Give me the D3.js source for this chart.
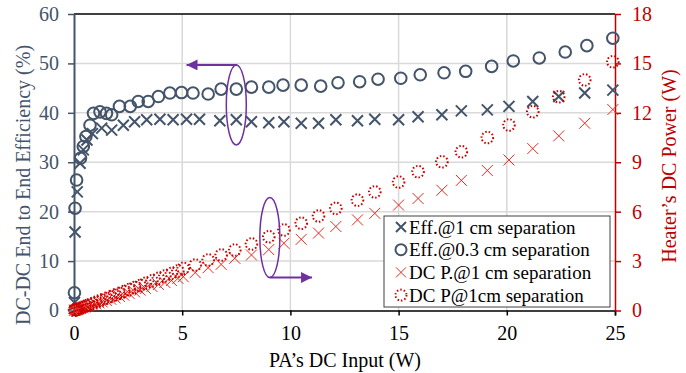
<!DOCTYPE html>
<html>
<head>
<meta charset="utf-8">
<script src="https://d3js.org/d3.v7.min.js"></script>
<style>
body { margin: 0; background: #fff; }
svg { display: block; font-family: "Liberation Serif", "Times New Roman", serif; }
</style>
</head>
<body>
<svg></svg>
<script>
var WIDTH = 686;
var HEIGHT = 373;

// efficiency @ 1 cm (left axis, %)
var eff1X = [0.02, 0.05, 0.15, 0.28, 0.43, 0.6, 0.85, 1.28, 1.74, 2.28, 2.8, 3.36, 3.97, 4.58, 5.2, 5.8, 6.74, 7.5, 8.2, 9.0, 9.7, 10.5, 11.3, 12.1, 13.1, 13.9, 15.0, 15.9, 17.0, 17.9, 19.1, 20.1, 21.2, 22.4, 23.6, 24.9];
var eff1Y = [1.6, 15.9, 24, 29.8, 32.5, 34.5, 35.8, 36.9, 36.5, 37.5, 38.2, 38.6, 38.7, 38.6, 38.7, 38.7, 38.4, 38.6, 38.2, 38.0, 38.2, 37.9, 37.9, 38.6, 38.4, 38.7, 38.6, 39.2, 39.6, 40.4, 40.6, 41.3, 42.3, 43.3, 44.0, 44.6];

// efficiency @ 0.3 cm (left axis, %)
var eff03X = [0.02, 0.05, 0.12, 0.3, 0.43, 0.55, 0.74, 0.9, 1.2, 1.5, 1.74, 2.1, 2.6, 2.97, 3.43, 3.9, 4.43, 4.97, 5.5, 6.2, 6.8, 7.5, 8.2, 9.0, 9.66, 10.5, 11.4, 12.2, 13.2, 14.05, 15.1, 16.0, 17.1, 18.1, 19.3, 20.3, 21.5, 22.7, 23.7, 24.9];
var eff03Y = [3.6, 20.7, 26.4, 30.8, 33.2, 35.2, 37.5, 39.9, 40.2, 39.9, 39.6, 41.3, 41.3, 42.3, 42.3, 43.3, 44.0, 44.1, 44.0, 43.8, 44.8, 44.8, 45.2, 45.2, 45.6, 45.6, 45.4, 46.1, 46.3, 46.8, 47.0, 47.7, 48.1, 48.4, 49.4, 50.5, 51.1, 52.3, 53.6, 55.1];

// heater DC power, X markers (right axis, W)
var dcp1X = [0.02, 0.05, 0.1, 0.15, 0.2, 0.3, 0.4, 0.5, 0.6, 0.7, 0.85, 1.0, 1.15, 1.3, 1.5, 1.7, 1.9, 2.1, 2.3, 2.55, 2.8, 3.05, 3.3, 3.6, 3.9, 4.2, 4.5, 4.8, 5.05, 5.6, 6.2, 6.8, 7.43, 8.2, 9.0, 9.7, 10.5, 11.3, 12.1, 13.1, 13.9, 15.0, 15.9, 17.0, 17.9, 19.1, 20.1, 21.2, 22.4, 23.6, 24.9];
var dcp1Y = [0.01, 0.02, 0.04, 0.06, 0.08, 0.12, 0.16, 0.2, 0.24, 0.28, 0.34, 0.4, 0.46, 0.52, 0.6, 0.68, 0.76, 0.85, 0.93, 1.03, 1.13, 1.24, 1.34, 1.46, 1.58, 1.7, 1.82, 1.95, 2.05, 2.3, 2.6, 2.8, 3.17, 3.37, 3.7, 4.08, 4.32, 4.7, 5.1, 5.5, 5.9, 6.4, 6.8, 7.3, 7.9, 8.5, 9.14, 9.83, 10.6, 11.37, 12.2];

// heater DC power, dotted circles (right axis, W)
var dcp2X = [0.02, 0.05, 0.1, 0.15, 0.2, 0.3, 0.4, 0.5, 0.6, 0.7, 0.85, 1.0, 1.15, 1.3, 1.5, 1.7, 1.9, 2.1, 2.3, 2.55, 2.8, 3.05, 3.3, 3.6, 3.9, 4.2, 4.5, 4.8, 5.05, 5.6, 6.2, 6.8, 7.43, 8.2, 9.0, 9.7, 10.5, 11.3, 12.1, 13.1, 13.9, 15.0, 15.9, 17.0, 17.9, 19.1, 20.1, 21.2, 22.4, 23.6, 24.9];
var dcp2Y = [0.01, 0.03, 0.05, 0.08, 0.1, 0.15, 0.2, 0.25, 0.3, 0.35, 0.42, 0.5, 0.57, 0.65, 0.75, 0.85, 0.95, 1.05, 1.15, 1.28, 1.4, 1.52, 1.65, 1.8, 1.95, 2.1, 2.25, 2.4, 2.56, 2.76, 3.07, 3.37, 3.67, 4.04, 4.48, 4.89, 5.3, 5.74, 6.2, 6.7, 7.2, 7.8, 8.43, 9.03, 9.64, 10.5, 11.26, 12.07, 12.98, 14.0, 15.1];

var xTicks = [0, 5, 10, 15, 20, 25];
var leftTicks = [0, 10, 20, 30, 40, 50, 60];
var rightTicks = [0, 3, 6, 9, 12, 15, 18];
var legendNames = ['Eff.@1 cm separation', 'Eff.@0.3 cm separation', 'DC P.@1 cm separation', 'DC P@1cm separation'];

var SLATE = '#44546A';
var RED_AXIS = '#C00000';
var RED_X = '#F0281E';
var RED_O = '#CC0000';
var PURPLE = '#7030A0';
var FONT = '"Liberation Serif", "Times New Roman", serif';

var svg = d3.select('svg')
  .attr('width', WIDTH)
  .attr('height', HEIGHT);

var xScale = d3.scaleLinear().domain([0, 25]).range([74, 615]);
var yLeft = d3.scaleLinear().domain([0, 60]).range([310.5, 14]);
var yRight = d3.scaleLinear().domain([0, 18]).range([310.5, 14]);

// grid
svg.append('g').selectAll('line.v').data(xTicks.slice(1, 5)).enter()
  .append('line')
  .attr('x1', function(d){ return xScale(d); })
  .attr('x2', function(d){ return xScale(d); })
  .attr('y1', yLeft(0)).attr('y2', yLeft(60))
  .attr('stroke', '#D9D9D9').attr('stroke-width', 1.5);
svg.append('g').selectAll('line.h').data(leftTicks.slice(1, 6)).enter()
  .append('line')
  .attr('x1', xScale(0)).attr('x2', xScale(25))
  .attr('y1', function(d){ return yLeft(d); })
  .attr('y2', function(d){ return yLeft(d); })
  .attr('stroke', '#D9D9D9').attr('stroke-width', 1.5);

// top border
svg.append('line')
  .attr('x1', xScale(0)).attr('x2', xScale(25))
  .attr('y1', yLeft(60)).attr('y2', yLeft(60))
  .attr('stroke', '#000').attr('stroke-width', 1.5);

// axes
var bottomAxis = d3.axisBottom(xScale).tickValues(xTicks).tickSize(5).tickPadding(10);
var gx = svg.append('g').attr('transform', 'translate(0,' + yLeft(0) + ')').call(bottomAxis);
gx.select('.domain').attr('stroke', '#000').attr('stroke-width', 1.5);
gx.selectAll('.tick line').attr('stroke', '#000').attr('stroke-width', 1.5);
gx.selectAll('text').attr('font-size', 20).attr('fill', '#000').attr('font-family', FONT);

var leftAxis = d3.axisLeft(yLeft).tickValues(leftTicks).tickSize(6).tickPadding(9).tickSizeOuter(0);
var gl = svg.append('g').attr('transform', 'translate(' + xScale(0) + ',0)').call(leftAxis);
gl.select('.domain').attr('stroke', SLATE).attr('stroke-width', 2);
gl.selectAll('.tick line').attr('stroke', SLATE).attr('stroke-width', 1.5);
gl.selectAll('text').attr('font-size', 20).attr('fill', SLATE).attr('font-family', FONT);

var rightAxis = d3.axisRight(yRight).tickValues(rightTicks).tickSize(6).tickPadding(11).tickSizeOuter(0);
var gr = svg.append('g').attr('transform', 'translate(' + xScale(25) + ',0)').call(rightAxis);
gr.select('.domain').attr('stroke', RED_AXIS).attr('stroke-width', 1.5);
gr.selectAll('.tick line').attr('stroke', RED_AXIS).attr('stroke-width', 1.5);
gr.selectAll('text').attr('font-size', 20).attr('fill', RED_AXIS).attr('font-family', FONT);

// titles
svg.append('text')
  .attr('x', 345).attr('y', 367)
  .attr('text-anchor', 'middle')
  .attr('font-size', 20)
  .attr('fill', '#000')
  .text('PA\u2019s DC Input (W)');

svg.append('text')
  .attr('transform', 'translate(30,185) rotate(-90)')
  .attr('text-anchor', 'middle')
  .attr('font-size', 20)
  .attr('fill', SLATE)
  .text('DC-DC End to End Efficiency (%)');

svg.append('text')
  .attr('transform', 'translate(676,166) rotate(-90)')
  .attr('text-anchor', 'middle')
  .attr('font-size', 20)
  .attr('fill', RED_AXIS)
  .text('Heater\u2019s DC Power (W)');

var crossPath = function(s){
  return 'M' + (-s) + ',' + (-s) + 'L' + s + ',' + s + 'M' + (-s) + ',' + s + 'L' + s + ',' + (-s);
};

var zip = function(xs, ys){
  return xs.map(function(d, i){ return {x: d, y: ys[i]}; });
};

// efficiency markers
svg.append('g').selectAll('path').data(zip(eff1X, eff1Y)).enter()
  .append('path')
  .attr('transform', function(d){ return 'translate(' + xScale(d.x) + ',' + yLeft(d.y) + ')'; })
  .attr('d', crossPath(5.5))
  .attr('stroke', SLATE).attr('stroke-width', 2).attr('fill', 'none');

svg.append('g').selectAll('circle').data(zip(eff03X, eff03Y)).enter()
  .append('circle')
  .attr('cx', function(d){ return xScale(d.x); })
  .attr('cy', function(d){ return yLeft(d.y); })
  .attr('r', 5.8)
  .attr('stroke', SLATE).attr('stroke-width', 2).attr('fill', 'none');

// heater power markers
svg.append('g').selectAll('path').data(zip(dcp1X, dcp1Y)).enter()
  .append('path')
  .attr('transform', function(d){ return 'translate(' + xScale(d.x) + ',' + yRight(d.y) + ')'; })
  .attr('d', crossPath(5.5))
  .attr('stroke', RED_X).attr('stroke-width', 1).attr('fill', 'none');

svg.append('g').selectAll('circle').data(zip(dcp2X, dcp2Y)).enter()
  .append('circle')
  .attr('cx', function(d){ return xScale(d.x); })
  .attr('cy', function(d){ return yRight(d.y); })
  .attr('r', 5.8)
  .attr('stroke', RED_O).attr('stroke-width', 2).attr('stroke-dasharray', '1.5,2')
  .attr('fill', 'none');

// annotations
var marker = svg.append('defs').append('marker')
  .attr('id', 'arr').attr('viewBox', '0 0 10 10')
  .attr('refX', 10).attr('refY', 5)
  .attr('markerWidth', 5.5).attr('markerHeight', 5.5)
  .attr('markerUnits', 'strokeWidth')
  .attr('orient', 'auto');
marker.append('path').attr('d', 'M0,0L10,5L0,10z').attr('fill', PURPLE);

svg.append('ellipse')
  .attr('cx', xScale(7.5)).attr('cy', yLeft(41.6))
  .attr('rx', 10).attr('ry', 40)
  .attr('fill', 'none').attr('stroke', PURPLE).attr('stroke-width', 1.5);
svg.append('line')
  .attr('x1', xScale(7.5) + 1).attr('y1', yLeft(41.6) - 40)
  .attr('x2', xScale(5.2)).attr('y2', yLeft(41.6) - 40)
  .attr('stroke', PURPLE).attr('stroke-width', 2)
  .attr('marker-end', 'url(#arr)');

svg.append('ellipse')
  .attr('cx', xScale(9.05)).attr('cy', yRight(4.43))
  .attr('rx', 10).attr('ry', 40)
  .attr('fill', 'none').attr('stroke', PURPLE).attr('stroke-width', 1.5);
svg.append('line')
  .attr('x1', xScale(9.05)).attr('y1', yRight(4.43) + 40)
  .attr('x2', xScale(11.0)).attr('y2', yRight(4.43) + 40)
  .attr('stroke', PURPLE).attr('stroke-width', 2)
  .attr('marker-end', 'url(#arr)');

// legend
var legend = svg.append('g').attr('transform', 'translate(384,216)');
legend.append('rect')
  .attr('width', 226).attr('height', 91)
  .attr('fill', '#fff').attr('stroke', '#404040').attr('stroke-width', 1);

var rows = legend.selectAll('g.row').data(legendNames).enter()
  .append('g')
  .attr('transform', function(d, i){ return 'translate(0,' + (11 + i * 22.7) + ')'; });

rows.append('text')
  .attr('x', 25).attr('y', 6.5)
  .attr('font-size', 19)
  .attr('fill', '#000')
  .text(function(d){ return d; });

rows.each(function(d, i){
  var g = d3.select(this);
  if (i === 0) {
    g.append('path').attr('transform', 'translate(17,0)').attr('d', crossPath(5))
      .attr('stroke', SLATE).attr('stroke-width', 2).attr('fill', 'none');
  } else if (i === 1) {
    g.append('circle').attr('cx', 17).attr('r', 5.5)
      .attr('stroke', SLATE).attr('stroke-width', 2).attr('fill', 'none');
  } else if (i === 2) {
    g.append('path').attr('transform', 'translate(17,0)').attr('d', crossPath(5))
      .attr('stroke', RED_X).attr('stroke-width', 1).attr('fill', 'none');
  } else {
    g.append('circle').attr('cx', 17).attr('r', 5.5)
      .attr('stroke', RED_O).attr('stroke-width', 2).attr('stroke-dasharray', '1.5,2')
      .attr('fill', 'none');
  }
});
</script>
</body>
</html>
